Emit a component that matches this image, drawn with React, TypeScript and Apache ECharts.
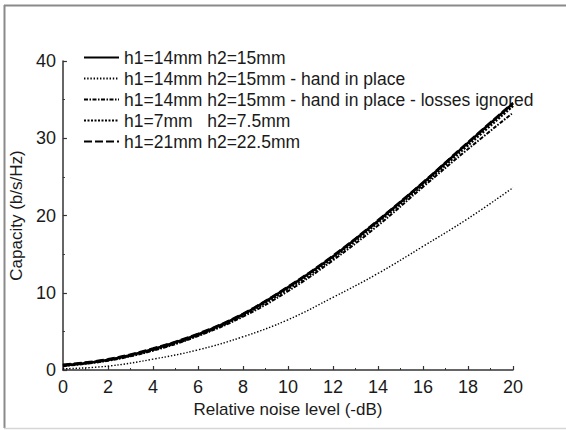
import React, { useEffect, useRef } from "react";
import * as echarts from "echarts";

const noiseLevels = [0, 2, 4, 6, 8, 10, 12, 14, 16, 18, 20];
const base14 = [0.6, 1.3, 2.7, 4.6, 7.2, 10.7, 14.7, 19.3, 24.2, 29.4, 34.5];
const hand14 = [0.15, 0.5, 1.4, 2.6, 4.3, 6.5, 9.4, 12.5, 16.0, 19.6, 23.6];
const handNoLoss14 = [0.5, 1.2, 2.5, 4.4, 6.9, 10.2, 14.2, 18.7, 23.7, 28.6, 33.3];
const base7 = [0.6, 1.3, 2.6, 4.5, 7.1, 10.5, 14.5, 19.1, 24.0, 29.1, 34.2];
const base21 = [0.7, 1.4, 2.8, 4.7, 7.3, 10.8, 14.8, 19.4, 24.3, 29.5, 34.6];
const seriesNames = [
  "h1=14mm h2=15mm",
  "h1=14mm h2=15mm - hand in place",
  "h1=14mm h2=15mm - hand in place - losses ignored",
  "h1=7mm   h2=7.5mm",
  "h1=21mm h2=22.5mm",
];
const yTicks = [0, 10, 20, 30, 40];
const xTicks = [0, 20];

const FONT = "'Liberation Sans', Arial, sans-serif";

export default function App() {
  const ref = useRef<HTMLDivElement>(null);
  useEffect(() => {
    if (!ref.current) return;
    const chart = echarts.init(ref.current, null, { renderer: "svg" });
    const pts = (vals: number[]) => noiseLevels.map((x, i) => [x, vals[i]]);
    const mk = (name: string, vals: number[], lineStyle: any, z: number) => ({
      name,
      type: "line",
      data: pts(vals),
      smooth: 0.4,
      symbol: "none",
      showSymbol: false,
      z,
      lineStyle: { color: "#000", ...lineStyle },
      itemStyle: { color: "#000" },
    });
    chart.setOption({
      animation: false,
      backgroundColor: "#fff",
      textStyle: { fontFamily: FONT },
      grid: { left: 61, top: 61, width: 452, height: 309, containLabel: false },
      legend: {
        show: true,
        orient: "vertical",
        left: 78,
        top: 42,
        itemWidth: 35,
        itemHeight: 14,
        itemGap: 0,
        data: seriesNames,
        itemStyle: { opacity: 0 },
        textStyle: { fontFamily: FONT, fontSize: 17.5, color: "#1a1a1a", lineHeight: 21 },
      },
      xAxis: {
        type: "value",
        min: xTicks[0],
        max: xTicks[1],
        interval: 2,
        name: "Relative noise level (-dB)",
        nameLocation: "middle",
        nameGap: 30,
        nameTextStyle: { fontFamily: FONT, fontSize: 17, color: "#1a1a1a" },
        axisLine: { show: true, lineStyle: { color: "#333", width: 1.5 } },
        axisTick: { show: true, inside: true, length: 4, lineStyle: { color: "#333", width: 1.2 } },
        minorTick: { show: true, splitNumber: 2, length: 2, lineStyle: { color: "#333", width: 1 } },
        splitLine: { show: false },
        minorSplitLine: { show: false },
        axisLabel: { fontFamily: FONT, fontSize: 18, color: "#1a1a1a", margin: 8 },
      },
      yAxis: {
        type: "value",
        min: yTicks[0],
        max: yTicks[yTicks.length - 1],
        interval: 10,
        name: "Capacity (b/s/Hz)",
        nameLocation: "middle",
        nameRotate: 90,
        nameGap: 35,
        nameTextStyle: { fontFamily: FONT, fontSize: 17, color: "#1a1a1a" },
        axisLine: { show: true, lineStyle: { color: "#333", width: 1.5 } },
        axisTick: { show: true, inside: true, length: 4, lineStyle: { color: "#333", width: 1.2 } },
        minorTick: { show: true, splitNumber: 2, length: 2, lineStyle: { color: "#333", width: 1 } },
        splitLine: { show: false },
        minorSplitLine: { show: false },
        axisLabel: { fontFamily: FONT, fontSize: 18, color: "#1a1a1a", margin: 7 },
      },
      graphic: [
        { type: "line", shape: { x1: 4.5, y1: 5, x2: 4.5, y2: 428 }, style: { stroke: "#8a8a8a", lineWidth: 2 }, silent: true },
        { type: "line", shape: { x1: 4, y1: 5.5, x2: 566, y2: 5.5 }, style: { stroke: "#8a8a8a", lineWidth: 2 }, silent: true },
        { type: "line", shape: { x1: 4, y1: 428.5, x2: 566, y2: 428.5 }, style: { stroke: "#d6d6d6", lineWidth: 1.5 }, silent: true },
      ],
      series: [
        mk(seriesNames[1], hand14, { width: 1.4, type: [1.4, 1.8] }, 2),
        mk(seriesNames[2], handNoLoss14, { width: 2, type: [4, 1.5, 1.5, 1.5] }, 3),
        mk(seriesNames[3], base7, { width: 2.6, type: [2, 1.5] }, 4),
        mk(seriesNames[4], base21, { width: 2.2, type: [8, 3] }, 5),
        mk(seriesNames[0], base14, { width: 2.6, type: "solid" }, 6),
      ],
    });
    return () => chart.dispose();
  }, []);
  return (
    <div
      ref={ref}
      style={{ position: "fixed", left: 0, top: 0, width: 566, height: 430, background: "#fff" }}
    />
  );
}
